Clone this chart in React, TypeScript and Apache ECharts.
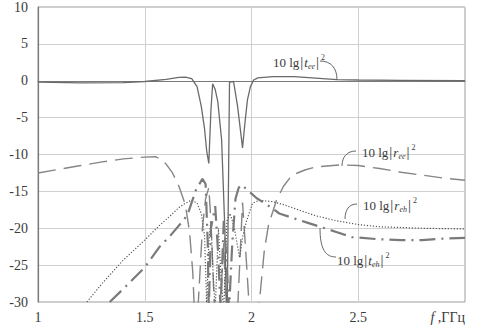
import React, { useEffect, useRef } from "react";
import * as echarts from "echarts";

const xTicks = [1, 1.5, 2, 2.5, 3];
const yTicks = [-30, -25, -20, -15, -10, -5, 0, 5, 10];
const xUnitLabel = "{i|f} ,ГГц";

// 10 lg|t_ee|^2 (solid)
const tEeData: number[][] = [
  [1.0, -0.2], [1.2, -0.3], [1.4, -0.25], [1.5, -0.1], [1.6, 0.2], [1.66, 0.45], [1.69, 0.5],
  [1.72, 0.3], [1.745, -0.8], [1.765, -3.5], [1.78, -6.5], [1.79, -9.5], [1.8, -11.2], [1.81, -4],
  [1.818, -0.4], [1.83, -1.2], [1.842, -2.8], [1.86, -8], [1.875, -20], [1.885, -35], [1.89, -20],
  [1.897, -0.2], [1.916, -0.1], [1.935, -3.5], [1.958, -9.1], [1.97, -5.5], [1.981, -2.6],
  [1.995, -0.8], [2.01, 0.1], [2.03, 0.4], [2.1, 0.55], [2.2, 0.55], [2.3, 0.35], [2.4, 0.15],
  [2.5, 0.1], [2.7, 0.05], [3.0, 0.0],
];

// 10 lg|r_ee|^2 (long dash)
const rEeData: number[][] = [
  [1.0, -12.5], [1.1, -12.0], [1.2, -11.5], [1.3, -11.0], [1.4, -10.6], [1.5, -10.35], [1.55, -10.3],
  [1.58, -10.7], [1.6, -11.3], [1.63, -12.5], [1.66, -14.3], [1.69, -16.8], [1.71, -20.5],
  [1.725, -26], [1.735, -33], [1.75, -30.5], [1.77, -20], [1.785, -16], [1.8, -14.5], [1.81, -19],
  [1.825, -30], [1.84, -34], [1.855, -30], [1.87, -22], [1.88, -30], [1.9, -34], [1.935, -31],
  [1.958, -16.5], [1.975, -24], [1.99, -31], [2.02, -33], [2.037, -30], [2.06, -23], [2.08, -19.5],
  [2.117, -16.2], [2.15, -14.3], [2.19, -12.8], [2.25, -12.1], [2.3, -11.7], [2.42, -11.4],
  [2.5, -11.5], [2.6, -11.9], [2.7, -12.4], [2.8, -12.8], [2.9, -13.2], [3.0, -13.5],
];

// 10 lg|r_eh|^2 (dotted)
const rEhData: number[][] = [
  [1.229, -30], [1.3, -27.5], [1.4, -24.3], [1.5, -21.6], [1.57, -19.6], [1.62, -18.3], [1.66, -17.2],
  [1.69, -16.6], [1.72, -16.2], [1.745, -16.6], [1.765, -18], [1.78, -21], [1.79, -30.5], [1.8, -22],
  [1.81, -19], [1.82, -26], [1.83, -31], [1.845, -20], [1.86, -28], [1.87, -31], [1.885, -19],
  [1.9, -18], [1.92, -20], [1.944, -24], [1.96, -21], [1.977, -19], [2.005, -16.6], [2.037, -16.2],
  [2.1, -16.4], [2.15, -16.8], [2.2, -17.3], [2.3, -18.3], [2.4, -19.0], [2.5, -19.5], [2.6, -19.8],
  [2.8, -20.0], [3.0, -20.1],
];

// 10 lg|t_eh|^2 (dash-dot)
const tEhData: number[][] = [
  [1.336, -30], [1.4, -28.2], [1.5, -25.3], [1.57, -22.5], [1.62, -21], [1.67, -19.3], [1.7, -18.2],
  [1.72, -16.5], [1.74, -14.8], [1.77, -13.3], [1.785, -14], [1.795, -22], [1.8, -31], [1.81, -20],
  [1.83, -17], [1.845, -24], [1.855, -31], [1.87, -19], [1.88, -23], [1.895, -31], [1.91, -22],
  [1.925, -16], [1.94, -14.5], [1.953, -14.1], [2.023, -15.9], [2.098, -17.3], [2.13, -18],
  [2.257, -19.2], [2.397, -20.5], [2.47, -21.2], [2.6, -21.5], [2.7, -21.6], [2.8, -21.6],
  [2.9, -21.4], [3.0, -21.3],
];

const annTexts = [
  "{n|10 lg}{b||}{i|t}{s|ee}{b||}{p|2}",
  "{n|10 lg}{b||}{i|r}{s|ee}{b||}{p|2}",
  "{n|10 lg}{b||}{i|r}{s|eh}{b||}{p|2}",
  "{n|10 lg}{b||}{i|t}{s|eh}{b||}{p|2}",
];

const SERIF = "Liberation Serif";
const TXT = "#3a3a3a";

export default function App() {
  const ref = useRef<HTMLDivElement>(null);
  useEffect(() => {
    if (!ref.current) return;
    const chart = echarts.init(ref.current, undefined, { renderer: "svg" });
    const rich = {
      n: { fontFamily: SERIF, fontSize: 13, color: TXT, lineHeight: 20, verticalAlign: "middle" },
      b: { fontFamily: SERIF, fontSize: 15, color: TXT, lineHeight: 20, verticalAlign: "middle", padding: [0, 1, 0, 1] },
      i: { fontFamily: SERIF, fontSize: 13, fontStyle: "italic", color: TXT, lineHeight: 20, verticalAlign: "middle" },
      s: { fontFamily: SERIF, fontSize: 8, fontStyle: "italic", color: TXT, lineHeight: 20, verticalAlign: "bottom", padding: [0, 0, 2, 0] },
      p: { fontFamily: SERIF, fontSize: 8, color: TXT, lineHeight: 20, verticalAlign: "top", padding: [1, 0, 0, 1] },
    };
    const annPos = [
      [273, 62],
      [362, 152],
      [363, 205],
      [337, 260],
    ];
    const leaders = [
      [[320, 61], [331, 61], [337, 68], [337, 80]],
      [[356, 151], [347, 151], [342, 157], [342, 166]],
      [[357, 204], [349, 204], [345, 210], [345, 219]],
      [[320, 228], [320, 250], [326, 257], [336, 257]],
    ];
    const graphic: any[] = [];
    annTexts.forEach((t, k) => {
      graphic.push({
        type: "text",
        x: annPos[k][0],
        y: annPos[k][1],
        z: 100,
        style: { text: t, rich, verticalAlign: "middle", align: "left", fontFamily: SERIF, fontSize: 13, fill: TXT },
      });
      const L = leaders[k];
      graphic.push({
        type: "bezierCurve",
        z: 100,
        shape: { x1: L[0][0], y1: L[0][1], cpx1: L[1][0], cpy1: L[1][1], cpx2: L[2][0], cpy2: L[2][1], x2: L[3][0], y2: L[3][1] },
        style: { stroke: "#666", lineWidth: 1, fill: "none" },
      });
    });

    const mk = (name: string, data: number[][], color: string, width: number, type: any) => ({
      name,
      type: "line",
      data,
      showSymbol: false,
      symbol: "none",
      clip: true,
      smooth: false,
      lineStyle: { color, width, type },
      emphasis: { disabled: true },
    });

    chart.setOption({
      animation: false,
      backgroundColor: "#ffffff",
      grid: { left: 38, right: 14, top: 7, bottom: 30, show: true, borderColor: "#9a9a9a", borderWidth: 1, containLabel: false },
      xAxis: {
        type: "value",
        min: xTicks[0],
        max: xTicks[xTicks.length - 1],
        interval: 0.5,
        axisLine: { show: true, lineStyle: { color: "#7a7a7a", width: 1.2 } },
        axisTick: { show: false },
        splitLine: { show: true, lineStyle: { color: "#cfcfcf", width: 1 } },
        axisLabel: {
          fontFamily: SERIF,
          fontSize: 14,
          color: TXT,
          margin: 8,
          alignMaxLabel: "right",
          formatter: (v: number) => (v === xTicks[xTicks.length - 1] ? xUnitLabel : String(v)),
          rich: { i: { fontFamily: SERIF, fontSize: 14, fontStyle: "italic", color: TXT } },
        },
      },
      yAxis: {
        type: "value",
        min: yTicks[0],
        max: yTicks[yTicks.length - 1],
        interval: 5,
        axisLine: { show: true, lineStyle: { color: "#7a7a7a", width: 1.2 } },
        axisTick: { show: false },
        splitLine: { show: true, lineStyle: { color: "#cfcfcf", width: 1 } },
        axisLabel: { fontFamily: SERIF, fontSize: 14, color: TXT, margin: 10 },
      },
      series: [
        mk("tee", tEeData, "#6a6a6a", 1.3, "solid"),
        mk("ree", rEeData, "#858585", 1.4, [18, 8]),
        mk("reh", rEhData, "#555555", 1.2, [1.2, 1.8]),
        mk("teh", tEhData, "#7a7a7a", 2.2, [16, 6, 2, 6]),
      ],
      graphic,
    });
    return () => chart.dispose();
  }, []);
  return <div ref={ref} style={{ position: "fixed", left: 0, top: 0, width: 479, height: 332, background: "#fff" }} />;
}
